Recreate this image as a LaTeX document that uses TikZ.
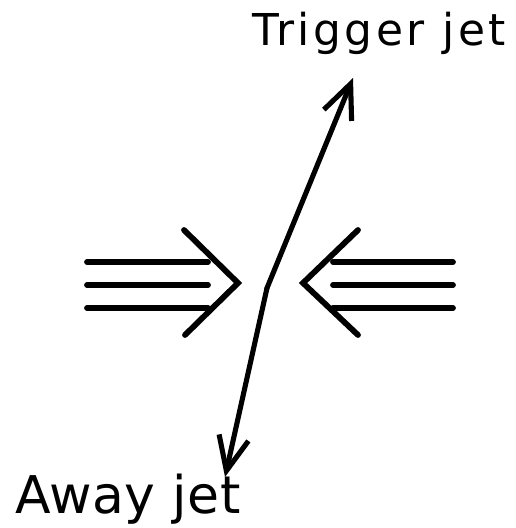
\documentclass[tikz,border=0pt]{standalone}
\usepackage{fontspec}
\newfontfamily\lblfont[LetterSpace=8]{DejaVu Sans}
\newfontfamily\lblfontb[LetterSpace=1]{DejaVu Sans}
\usetikzlibrary{arrows.meta}

\begin{document}
\begin{tikzpicture}[
  x=0.02cm, y=-0.02cm,
  beam/.style = {line width=3.3pt, line cap=round, line join=miter},
  jet/.style  = {line width=2.9pt, line cap=round,
                 -{Straight Barb[length=0.68cm, width=0.6cm, line width=2.9pt]}},
  lbl/.style  = {inner sep=0pt, anchor=base west},
]
\useasboundingbox (0,0) rectangle (516,528);

% jets out of the collision point
\coordinate (vtx)  at (267,288);
\coordinate (tjet) at (353,78);
\coordinate (ajet) at (225,477);
\draw[jet] (vtx) -- (tjet);
\draw[jet] (vtx) -- (ajet);

% incoming beam from the left
\foreach \yy in {262,285,308}
  \draw[beam] (87,\yy) -- (208,\yy);
\draw[beam] (184,230) -- (238,283) -- (185,335);

% incoming beam from the right
\foreach \yy in {262,285,308}
  \draw[beam] (333,\yy) -- (453,\yy);
\draw[beam] (358,230) -- (303,283) -- (358,335);

% labels
\node[lbl, font=\lblfont\fontsize{25}{30}\selectfont]  (trig) at (252,45)  {Trigger jet};
\node[lbl, font=\lblfontb\fontsize{29.6}{34}\selectfont] (away) at (15,513) {Away jet};
\end{tikzpicture}
\end{document}
